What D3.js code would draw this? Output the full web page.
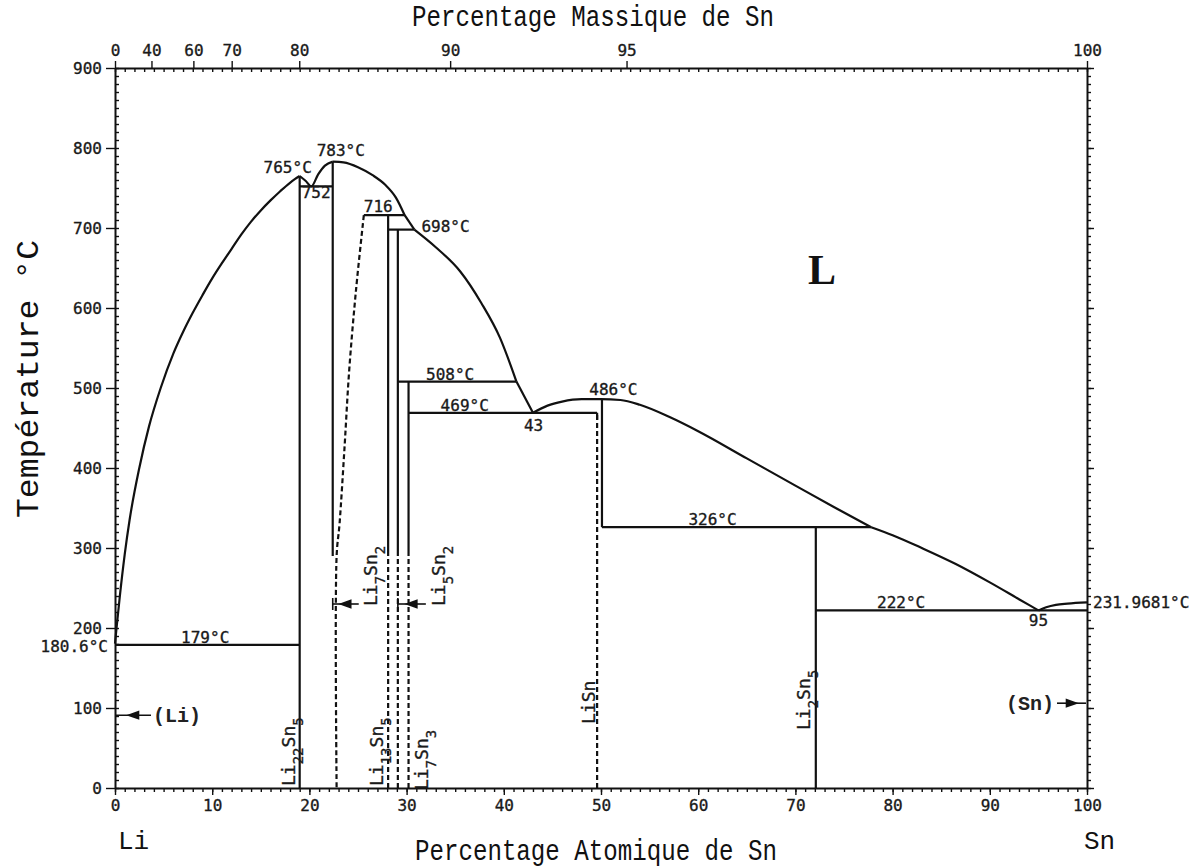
<!DOCTYPE html>
<html>
<head>
<meta charset="utf-8">
<script src="https://cdn.jsdelivr.net/npm/d3@7"></script>
<style>
  body { margin: 0; background: #fff; }
  svg { display: block; }
  .axis path, .axis line { stroke: #111; }
  .axis text { font-family: "DejaVu Sans Mono", monospace; font-size: 16px; fill: #1a1a1a; stroke: #1a1a1a; stroke-width: 0.35px; }
  .note { font-family: "DejaVu Sans Mono", monospace; font-size: 16px; fill: #1a1a1a; stroke: #1a1a1a; stroke-width: 0.35px; }
  .cmp { font-family: "DejaVu Sans Mono", monospace; font-size: 18px; fill: #1a1a1a; stroke: #1a1a1a; stroke-width: 0.35px; }
  .title { font-family: "Liberation Mono", monospace; fill: #111; }
</style>
</head>
<body>
<svg id="chart" width="1200" height="868"></svg>
<script>
// tick values
var atomTicks = [0, 10, 20, 30, 40, 50, 60, 70, 80, 90, 100];
var tempTicks = [0, 100, 200, 300, 400, 500, 600, 700, 800, 900];
var massTicks = [0, 40, 60, 70, 80, 90, 95, 100];

// liquidus branches, [at.% Sn, temperature °C]
var liqLi = [[0, 180.6], [0.2, 205], [0.5, 240], [1, 292], [1.5, 335], [2.5, 400], [3.5, 452],
             [4.7, 500], [6, 543], [7, 570], [8, 594], [9, 616], [10, 637], [11, 656], [12, 674],
             [13, 692], [14, 708], [15, 722], [16, 734.5], [17, 746], [18, 756.5], [18.5, 761], [19.0, 765]];
var liqDip = [[19.0, 765], [19.6, 759], [20.2, 752], [20.9, 767], [21.6, 778], [22.4, 783]];
var liqA = [[22.4, 783], [23.5, 782], [25, 776], [26.5, 766], [27.8, 754], [28.9, 738], [29.8, 716]];
var liqB = [[29.8, 716], [30.8, 698]];
var liqC = [[30.8, 698], [33, 676], [35.5, 646], [37.7, 606], [39.6, 563], [41.3, 508]];
var liqD = [[41.3, 508], [43, 469]];
var liqLiSn = [[43, 469], [44.5, 478], [46, 483], [48, 486], [50, 486], [52, 485], [54, 479],
               [57, 464], [60, 446], [65, 412], [70, 378], [74, 351], [77.8, 326]];
var liqSn = [[77.8, 326], [80, 316], [83, 300], [86.5, 280], [90, 257], [93, 236], [95, 222]];
var liqSnEnd = [[95, 222], [95.8, 226], [96.8, 229], [98, 230.5], [100, 232]];

// Li7Sn2 dashed solvus
var solvusLi7Sn2 = [[25.6, 716], [24.8, 623], [24.1, 523], [23.6, 423], [23.1, 330], [22.8, 290], [22.8, 0]];

// invariant lines [°C, from at.%, to at.%]
var isotherms = [[179, 0, 19.0], [752, 19.0, 22.4], [716, 25.6, 29.8], [698, 28.1, 30.8],
                 [508, 29.1, 41.3], [469, 30.2, 49.6], [326, 50.1, 77.8], [222, 72.1, 100]];

// compound lines [at.% Sn, lower °C, upper °C, dashed]
var phaseLines = [[19.0, 0, 765, 0], [22.4, 290, 783, 0],
                  [28.1, 290, 716, 0], [28.1, 0, 290, 1],
                  [29.1, 290, 698, 0], [29.1, 0, 290, 1],
                  [30.2, 290, 508, 0], [30.2, 0, 290, 1],
                  [49.6, 0, 469, 1], [50.1, 326, 486, 0], [72.1, 0, 326, 0]];

// compound names as [element, subscript, element, subscript]
var compounds = [["Li", "22", "Sn", "5"], ["Li", "7", "Sn", "2"], ["Li", "13", "Sn", "5"],
                 ["Li", "7", "Sn", "3"], ["Li", "5", "Sn", "2"], ["Li", "", "Sn", ""], ["Li", "2", "Sn", "5"]];

var svg = d3.select('#chart');
svg.append('rect').attr('width', 1200).attr('height', 868).attr('fill', '#fff');

var x = d3.scaleLinear().domain([0, 100]).range([115, 1087]);
var y = d3.scaleLinear().domain([0, 900]).range([788, 68]);

// mass % Sn -> at.% Sn (Li 6.941, Sn 118.71)
function massToAtom(w) {
  var s = w / 118.71, l = (100 - w) / 6.941;
  return 100 * s / (s + l);
}

// ---- axes ----
var gAx = svg.append('g').attr('class', 'axis');

// bottom
gAx.append('g').attr('transform', 'translate(0,788)')
  .call(d3.axisBottom(x).tickValues(d3.range(0, 101, 1)).tickSize(4).tickFormat(''))
  .call(g => g.select('.domain').remove());
gAx.append('g').attr('transform', 'translate(0,788)')
  .call(d3.axisBottom(x).tickValues(atomTicks).tickSizeInner(7).tickSizeOuter(0).tickPadding(5));

// top (mass %)
gAx.append('g').attr('transform', 'translate(0,68)')
  .call(d3.axisBottom(x).tickValues(d3.range(0, 101, 1)).tickSize(4).tickFormat(''))
  .call(g => g.select('.domain').remove());
gAx.append('g').attr('transform', 'translate(0,68)')
  .call(d3.axisTop(x).tickValues(massTicks.map(massToAtom)).tickSizeInner(7).tickSizeOuter(0)
    .tickPadding(5).tickFormat((d, i) => massTicks[i]));

// left
gAx.append('g').attr('transform', 'translate(115,0)')
  .call(d3.axisRight(y).tickValues(d3.range(0, 901, 10)).tickSize(4).tickFormat(''))
  .call(g => g.select('.domain').remove());
gAx.append('g').attr('transform', 'translate(115,0)')
  .call(d3.axisLeft(y).tickValues(tempTicks).tickSizeInner(9).tickSizeOuter(0).tickPadding(4));

// right
gAx.append('g').attr('transform', 'translate(1087,0)')
  .call(d3.axisRight(y).tickValues(d3.range(0, 901, 10)).tickSize(4).tickFormat(''))
  .call(g => g.select('.domain').remove());
gAx.append('g').attr('transform', 'translate(1087,0)')
  .call(d3.axisRight(y).tickValues(tempTicks).tickSizeInner(7).tickSizeOuter(0).tickFormat(''));

gAx.selectAll('path.domain').attr('stroke-width', 2);
gAx.selectAll('line').attr('stroke-width', 1.4);

// ---- diagram lines ----
var gL = svg.append('g').attr('fill', 'none').attr('stroke', '#111').attr('stroke-width', 2.2);
var curve = d3.line().x(d => x(d[0])).y(d => y(d[1])).curve(d3.curveMonotoneX);
var poly = d3.line().x(d => x(d[0])).y(d => y(d[1]));

[liqLi, liqDip, liqA, liqB, liqC, liqD, liqLiSn, liqSn, liqSnEnd].forEach(function(b) {
  gL.append('path').attr('d', curve(b));
});

gL.append('path').attr('d', poly.curve(d3.curveCatmullRom)(solvusLi7Sn2))
  .attr('stroke-dasharray', '5,3');

isotherms.forEach(function(d) {
  gL.append('line')
    .attr('x1', x(d[1])).attr('x2', x(d[2]))
    .attr('y1', y(d[0])).attr('y2', y(d[0]));
});
// small drop at the end of the 469 line
gL.append('line').attr('x1', x(49.6)).attr('x2', x(49.6))
  .attr('y1', y(469)).attr('y2', y(469) + 7);

phaseLines.forEach(function(d) {
  gL.append('line')
    .attr('x1', x(d[0])).attr('x2', x(d[0]))
    .attr('y1', y(d[1])).attr('y2', y(d[2]))
    .attr('stroke-dasharray', d[3] ? '5,3' : null);
});

// ---- labels ----
function note(txt, px, py, anchor) {
  svg.append('text').attr('class', 'note')
    .attr('x', px).attr('y', py)
    .attr('text-anchor', anchor || 'start')
    .text(txt);
}
note('765°C', x(19.0) - 12, y(765) - 3, 'middle');
note('783°C', x(22.4) + 8, y(783) - 6, 'middle');
note('752', x(19.0) + 2, y(752) + 12);
note('716', x(25.6), y(716) - 3);
note('698°C', x(30.8) + 7, y(698) + 2);
note('508°C', x(32.0), y(508) - 2);
note('469°C', x(33.5), y(469) - 2);
note('43', x(43) - 9, y(469) + 18);
note('486°C', x(48.8), y(486) - 4);
note('326°C', x(59.0), y(326) - 2);
note('222°C', x(78.4), y(222) - 2);
note('95', x(95), y(222) + 16, 'middle');
note('231.9681°C', x(100) + 6, y(232) + 6);
note('179°C', x(6.8), y(179) - 2);
note('180.6°C', x(0) - 7, y(180.6) + 8, 'end');

svg.append('text').attr('x', x(71.3)).attr('y', y(630))
  .attr('font-family', 'Liberation Serif, serif').attr('font-weight', 'bold')
  .attr('font-size', 42).attr('fill', '#111').text('L');

// rotated compound labels
var cmpPos = [[x(19.0) - 5, 786], [x(22.4) + 44, 606], [x(28.1) - 5, 786],
              [x(30.2) + 19, 790], [x(30.2) + 36, 606], [x(49.6) - 2, 724], [x(72.1) - 6, 730]];
compounds.forEach(function(c, i) {
  var t = svg.append('text').attr('class', 'cmp')
    .attr('transform', 'translate(' + cmpPos[i][0] + ',' + cmpPos[i][1] + ') rotate(-90)');
  c.forEach(function(p, j) {
    if (!p) return;
    var s = t.append('tspan').text(p);
    if (j % 2 == 1) s.attr('font-size', 14).attr('baseline-shift', 'sub');
  });
});

// arrows pointing at phase boundaries (dir -1 = points left, 1 = points right)
function arrow(x1, x2, py, dir) {
  var g = svg.append('g').attr('stroke', '#111').attr('stroke-width', 1.6);
  g.append('line').attr('x1', x1).attr('x2', x2).attr('y1', py).attr('y2', py);
  var hx = (x1 + x2) / 2;
  g.append('path').attr('fill', '#111')
    .attr('d', 'M' + (hx + 5 * dir) + ',' + py + 'l' + (-10 * dir) + ',-3.5v7z');
}
arrow(x(0) + 1, x(0) + 36, y(91), -1);
svg.append('line').attr('x1', x(22.4)).attr('x2', x(22.4))
  .attr('y1', y(230) - 6).attr('y2', y(230) + 6).attr('stroke', '#111').attr('stroke-width', 1.6);
arrow(x(22.4), x(22.4) + 26, y(230), -1);
svg.append('line').attr('x1', x(29.1)).attr('x2', x(29.1))
  .attr('y1', y(230) - 6).attr('y2', y(230) + 6).attr('stroke', '#111').attr('stroke-width', 1.6);
arrow(x(29.1), x(29.1) + 28, y(230), -1);
arrow(x(100) - 30, x(100) - 1, y(106), 1);

svg.append('text').attr('x', x(0) + 38).attr('y', y(91) + 7)
  .attr('font-family', 'Liberation Mono, monospace').attr('font-weight', 'bold')
  .attr('font-size', 20).attr('fill', '#222').text('(Li)');
svg.append('text').attr('x', x(100) - 33).attr('y', y(106) + 7).attr('text-anchor', 'end')
  .attr('font-family', 'Liberation Mono, monospace').attr('font-weight', 'bold')
  .attr('font-size', 20).attr('fill', '#222').text('(Sn)');

// ---- titles ----
svg.append('text').attr('class', 'title').attr('x', 412).attr('y', 26)
  .attr('font-size', 30).attr('textLength', 362).attr('lengthAdjust', 'spacingAndGlyphs')
  .text('Percentage Massique de Sn');
svg.append('text').attr('class', 'title').attr('x', 415).attr('y', 860)
  .attr('font-size', 30).attr('textLength', 362).attr('lengthAdjust', 'spacingAndGlyphs')
  .text('Percentage Atomique de Sn');
svg.append('text').attr('class', 'title')
  .attr('transform', 'translate(38,518) rotate(-90)')
  .attr('font-size', 32).attr('textLength', 278).attr('lengthAdjust', 'spacingAndGlyphs')
  .text('Température °C');
svg.append('text').attr('class', 'title').attr('x', 118).attr('y', 849)
  .attr('font-size', 26).text('Li');
svg.append('text').attr('class', 'title').attr('x', 1084).attr('y', 849)
  .attr('font-size', 26).text('Sn');
</script>
</body>
</html>
